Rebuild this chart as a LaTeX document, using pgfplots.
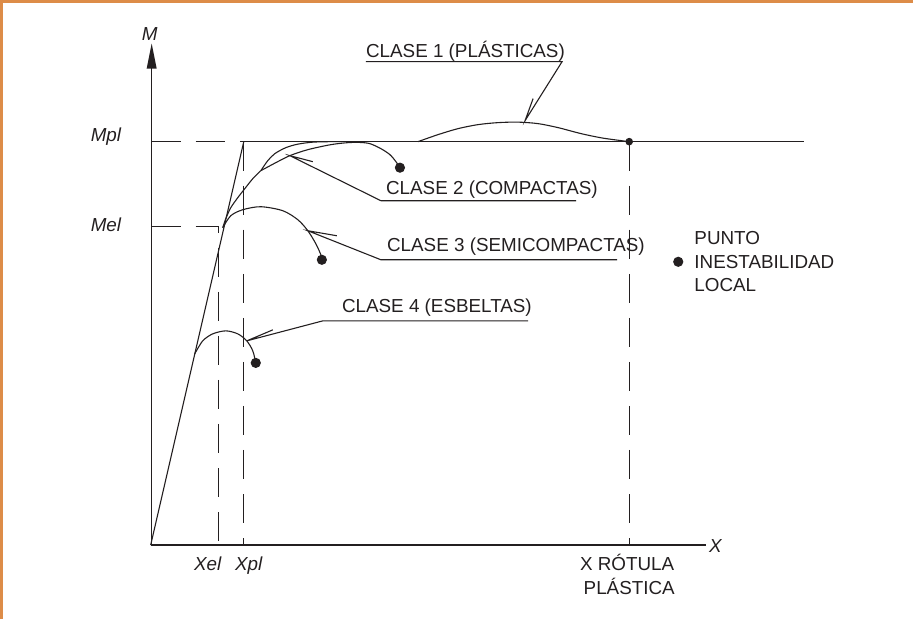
\documentclass[border=0pt]{standalone}
\usepackage{pgfplots}
\pgfplotsset{compat=1.18}
\usepackage{fontspec}
\setmainfont{Liberation Sans}
\definecolor{frameorange}{RGB}{221,140,72}
\definecolor{ink}{RGB}{35,31,32}
\tikzset{lbl/.style={font=\fontsize{18.8bp}{23.5bp}\selectfont,text=ink,inner sep=0pt},
  dsh/.style={dash pattern=on 29bp off 15bp, line width=1bp}}
\begin{document}
\begin{tikzpicture}
\begin{axis}[width=914bp,height=620bp,scale only axis,
  xmin=0,xmax=914,ymin=0,ymax=620,y dir=reverse,hide axis,clip=false,no markers,
  every axis plot/.append style={ink,line width=1.1bp}]
% frame
\addplot[frameorange,line width=3bp] coordinates {(4,620)(4,3)(914,3)};
% axes
\addplot[ink,line width=1.5bp] coordinates {(154,546)(154,68)};
\addplot[fill=ink,draw=none] coordinates {(149,70)(159,70)(154,45)} -- cycle;
\addplot[ink,line width=1.5bp] coordinates {(153,546)(708,546)};
% reference lines
\addplot[ink,dsh] coordinates {(154,143)(246,143)};
\addplot[ink,dsh] coordinates {(154,228)(221,228)(221,546)};
\addplot[ink,dsh] coordinates {(246,143)(246,546)};
\addplot[ink,dsh] coordinates {(631,143)(631,546)};
\addplot[ink] coordinates {(246,143)(806,143)};
\addplot[ink] coordinates {(153,546)(246,143)};
% class 4
\addplot[ink,smooth] coordinates {(197,355)(205,342)(215,335)(228,332)(240,335)(249,342)(255,352)(258,364)};
% class 3
\addplot[ink,smooth] coordinates {(225,229)(233,217)(245,211)(263,208)(285,212)(300,221)(310,232)(318,245)(323,256)(324,261)};
% trunk classes 1-2
\addplot[ink,smooth] coordinates {(225,229)(228,220)(233,209)(240,199)(247,190)(255,180)(263,172)};
% class 1
\addplot[ink,smooth] coordinates {(263,172)(270,162)(277,155)(288,149)(300,145.5)(315,143.5)(333,143)(345,143)};
\addplot[ink,smooth] coordinates {(420,143)(440,136)(460,130)(480,126)(500,124)(520,123.5)(540,125)(560,129)(583,135)(605,139.5)(631,143)};
% class 2
\addplot[ink,smooth] coordinates {(263,172)(278,164)(292,157)(310,151)(333,146)(350,144)(362,143.8)(372,145)(383,150)(392,156)(398,163)(402,169)};
% leaders
\addplot[ink] coordinates {(368,63)(564,63)(527,122)(535,100)};
\addplot[ink] coordinates {(315,163)(292,157)(383,202)(578,202)};
\addplot[ink] coordinates {(339,237)(310,232)(383,261)(619,261)};
\addplot[ink] coordinates {(275,331)(249,342)(325,322)(530,322)};
% dots
\addplot[only marks,mark=*,mark size=4.5bp,ink] coordinates {(258,364)(324,261)(402,169)(680,263)};
\addplot[only marks,mark=*,mark size=3.2bp,ink] coordinates {(631,143)};
% labels
\node[lbl,anchor=base west] at (axis cs:368,59) {CLASE 1 (PLÁSTICAS)};
\node[lbl,anchor=base west] at (axis cs:388,196) {CLASE 2 (COMPACTAS)};
\node[lbl,anchor=base west] at (axis cs:389,253) {CLASE 3 (SEMICOMPACTAS)};
\node[lbl,anchor=base west] at (axis cs:344,314) {CLASE 4 (ESBELTAS)};
\node[lbl,anchor=base west] at (axis cs:696,246) {PUNTO};
\node[lbl,anchor=base west] at (axis cs:696,270) {INESTABILIDAD};
\node[lbl,anchor=base west] at (axis cs:696,293) {LOCAL};
\node[lbl,anchor=base west] at (axis cs:93,143) {\itshape Mpl};
\node[lbl,anchor=base west] at (axis cs:93,233) {\itshape Mel};
\node[lbl,anchor=base] at (axis cs:152,42) {\itshape M};
\node[lbl,anchor=base] at (axis cs:210,571) {\itshape Xel};
\node[lbl,anchor=base] at (axis cs:251,571) {\itshape Xpl};
\node[lbl,anchor=base] at (axis cs:717,553) {\itshape X};
\node[lbl,anchor=base] at (axis cs:629,571) {X RÓTULA};
\node[lbl,anchor=base] at (axis cs:631,595) {PLÁSTICA};
\end{axis}
\end{tikzpicture}
\end{document}
